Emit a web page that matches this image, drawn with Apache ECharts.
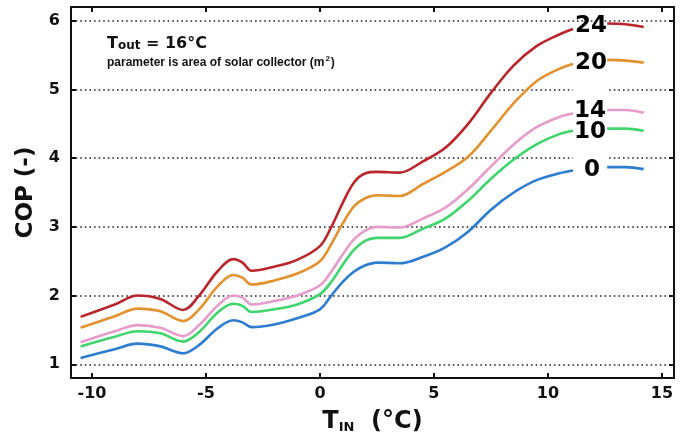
<!DOCTYPE html>
<html>
<head>
<meta charset="utf-8">
<script src="https://cdn.jsdelivr.net/npm/echarts@6/dist/echarts.min.js"></script>
<style>
html,body{margin:0;padding:0;background:#fff;}
#chart{width:688px;height:439px;}
</style>
</head>
<body>
<div id="chart"></div>
<script>
// ---- data ----
var tempsMain = [-10.5, -9, -8, -7, -6, -5.3, -4.5, -3.8, -3.4, -3, -2, -1, 0, 0.5, 1, 1.5, 2, 2.5, 3.5, 4.5, 5.5, 6.5, 7.5, 8.5, 9.5, 10.5, 11.1];
var tempsRight = [12.6, 13.4, 14.2];

var cop24 = [1.69, 1.87, 2.0, 1.95, 1.79, 2.0, 2.35, 2.53, 2.48, 2.36, 2.42, 2.52, 2.72, 3.0, 3.35, 3.65, 3.78, 3.8, 3.79, 3.95, 4.15, 4.5, 4.95, 5.35, 5.63, 5.8, 5.88];
var cop20 = [1.53, 1.7, 1.81, 1.77, 1.63, 1.8, 2.13, 2.3, 2.26, 2.16, 2.22, 2.32, 2.5, 2.75, 3.05, 3.3, 3.42, 3.46, 3.45, 3.62, 3.8, 4.02, 4.4, 4.8, 5.12, 5.3, 5.37];
var cop14 = [1.32, 1.48, 1.57, 1.53, 1.41, 1.57, 1.85, 2.0, 1.97, 1.87, 1.92, 2.0, 2.15, 2.35, 2.6, 2.82, 2.95, 3.0, 2.99, 3.12, 3.28, 3.55, 3.88, 4.2, 4.45, 4.6, 4.65];
var cop10 = [1.26, 1.4, 1.48, 1.45, 1.33, 1.47, 1.75, 1.88, 1.85, 1.76, 1.8, 1.87, 2.02, 2.2, 2.45, 2.67, 2.8, 2.84, 2.84, 2.97, 3.12, 3.38, 3.7, 3.98, 4.2, 4.35, 4.4];
var cop0  = [1.09, 1.22, 1.3, 1.26, 1.16, 1.28, 1.52, 1.64, 1.61, 1.54, 1.58, 1.67, 1.8, 2.0, 2.2, 2.35, 2.44, 2.48, 2.47, 2.56, 2.7, 2.93, 3.25, 3.5, 3.68, 3.78, 3.82];

var right24 = [5.96, 5.95, 5.91];
var right20 = [5.43, 5.42, 5.39];
var right14 = [4.70, 4.70, 4.66];
var right10 = [4.43, 4.43, 4.40];
var right0  = [3.87, 3.87, 3.84];

var areaNames = ['24', '20', '14', '10', '0'];
var labelT = [11.89, 11.89, 11.85, 11.85, 11.93];
var labelCop = [5.92, 5.39, 4.68, 4.38, 3.83];

var xTicks = [-10, -5, 0, 5, 10, 15];
var yTicks = [1, 2, 3, 4, 5, 6];

// ---- style ----
var colors = ['#b8262c', '#e2912f', '#e69ccb', '#3fd46c', '#2c7cd0'];
var mainSets = [cop24, cop20, cop14, cop10, cop0];
var rightSets = [right24, right20, right14, right10, right0];

function buildData(main, right) {
  var d = [];
  for (var i = 0; i < tempsMain.length; i++) d.push([tempsMain[i], main[i]]);
  d.push([(tempsMain[tempsMain.length - 1] + tempsRight[0]) / 2, '-']);
  for (var j = 0; j < tempsRight.length; j++) d.push([tempsRight[j], right[j]]);
  return d;
}

var xMin = -10.92, xMax = 15.53, yMin = 0.8, yMax = 6.2;
var FONT = 'DejaVu Sans';

var series = [];
for (var k = 0; k < areaNames.length; k++) {
  series.push({
    type: 'line',
    name: areaNames[k],
    data: buildData(mainSets[k], rightSets[k]),
    smooth: 0.35,
    showSymbol: false,
    connectNulls: false,
    lineStyle: { color: colors[k], width: 2.6 },
    z: 3
  });
}
var labelData = [];
for (var m = 0; m < areaNames.length; m++) labelData.push({ value: [labelT[m], labelCop[m]], name: areaNames[m] });
series.push({
  type: 'scatter',
  data: labelData,
  symbolSize: 0,
  silent: true,
  itemStyle: { opacity: 1, color: '#000' },
  label: {
    show: true, position: 'inside',
    formatter: function (p) { return p.name; },
    fontFamily: FONT, fontWeight: 'bold', fontSize: 23, color: '#000', opacity: 1
  },
  z: 5
});

function tickFmt(ticks) {
  return function (v) {
    for (var i = 0; i < ticks.length; i++) if (Math.abs(v - ticks[i]) < 1e-6) return String(ticks[i]);
    return '';
  };
}

var axisLineStyle = { show: true, onZero: false, lineStyle: { color: '#111', width: 2 } };
var tickStyle = { show: true, inside: true, length: 5, lineStyle: { color: '#111', width: 2 } };

var chart = echarts.init(document.getElementById('chart'), null, { renderer: 'canvas' });
var option = {
  backgroundColor: '#fff',
  animation: false,
  grid: { left: 71, right: 14, top: 7, bottom: 50 },
  xAxis: [{
    type: 'value', min: xMin, max: xMax, splitNumber: 5,
    axisLine: axisLineStyle,
    axisTick: tickStyle,
    axisLabel: { formatter: tickFmt(xTicks), fontFamily: FONT, fontWeight: 'bold', fontSize: 16, color: '#111', margin: 8 },
    splitLine: { show: false },
    name: '{t|T}{s|IN}{t|  (°C)}',
    nameLocation: 'middle', nameGap: 30,
    nameTextStyle: {
      rich: {
        t: { fontFamily: FONT, fontWeight: 'bold', fontSize: 24, color: '#111', verticalAlign: 'bottom', lineHeight: 26 },
        s: { fontFamily: FONT, fontWeight: 'bold', fontSize: 13, color: '#111', verticalAlign: 'bottom', lineHeight: 14, padding: [14, 0, 0, 0] }
      }
    }
  }, {
    type: 'value', min: xMin, max: xMax, splitNumber: 5, position: 'top',
    axisLine: axisLineStyle,
    axisTick: tickStyle,
    axisLabel: { show: false }, splitLine: { show: false }
  }],
  yAxis: [{
    type: 'value', min: yMin, max: yMax, splitNumber: 5,
    axisLine: axisLineStyle,
    axisTick: tickStyle,
    axisLabel: { formatter: tickFmt(yTicks), fontFamily: FONT, fontWeight: 'bold', fontSize: 16, color: '#111', margin: 11 },
    splitLine: { show: true, lineStyle: { color: '#222', width: 1.6, type: [1.6, 3] } },
    name: 'COP (-)', nameLocation: 'middle', nameGap: 31, nameRotate: 90,
    nameTextStyle: { fontFamily: FONT, fontWeight: 'bold', fontSize: 23, color: '#111' }
  }, {
    type: 'value', min: yMin, max: yMax, splitNumber: 5, position: 'right',
    axisLine: axisLineStyle,
    axisTick: tickStyle,
    axisLabel: { show: false }, splitLine: { show: false }
  }],
  graphic: [{
    type: 'text', left: 107, top: 28, z: 10,
    style: {
      text: '{t|T}{s|out}{t| = 16°C}',
      rich: {
        t: { fontFamily: FONT, fontWeight: 'bold', fontSize: 16, fill: '#111', verticalAlign: 'bottom', lineHeight: 18 },
        s: { fontFamily: FONT, fontWeight: 'bold', fontSize: 12, fill: '#111', verticalAlign: 'bottom', lineHeight: 12, padding: [12, 0, 0, 0] }
      }
    }
  }, {
    type: 'text', left: 107, top: 55, z: 10,
    style: {
      text: '{p|parameter is area of solar collector (m}{u|2}{p|)}',
      rich: {
        p: { fontFamily: 'Liberation Sans', fontWeight: 'bold', fontSize: 12, fill: '#111', verticalAlign: 'bottom', lineHeight: 14 },
        u: { fontFamily: 'Liberation Sans', fontWeight: 'bold', fontSize: 8, fill: '#111', verticalAlign: 'top', lineHeight: 8, padding: [0, 1, 6, 1] }
      }
    }
  }],
  series: series
};
chart.setOption(option);

// white gaps in the dotted grid lines next to the curve labels (as in the original)
var gaps = [];
[5, 4].forEach(function (g) {
  var a = chart.convertToPixel({ gridIndex: 0 }, [11.1, g]);
  var b = chart.convertToPixel({ gridIndex: 0 }, [12.6, g]);
  gaps.push({ type: 'rect', z: 2, shape: { x: a[0], y: a[1] - 2, width: b[0] - a[0], height: 4 }, style: { fill: '#fff' } });
});
chart.setOption({ graphic: option.graphic.concat(gaps) });
</script>
</body>
</html>
